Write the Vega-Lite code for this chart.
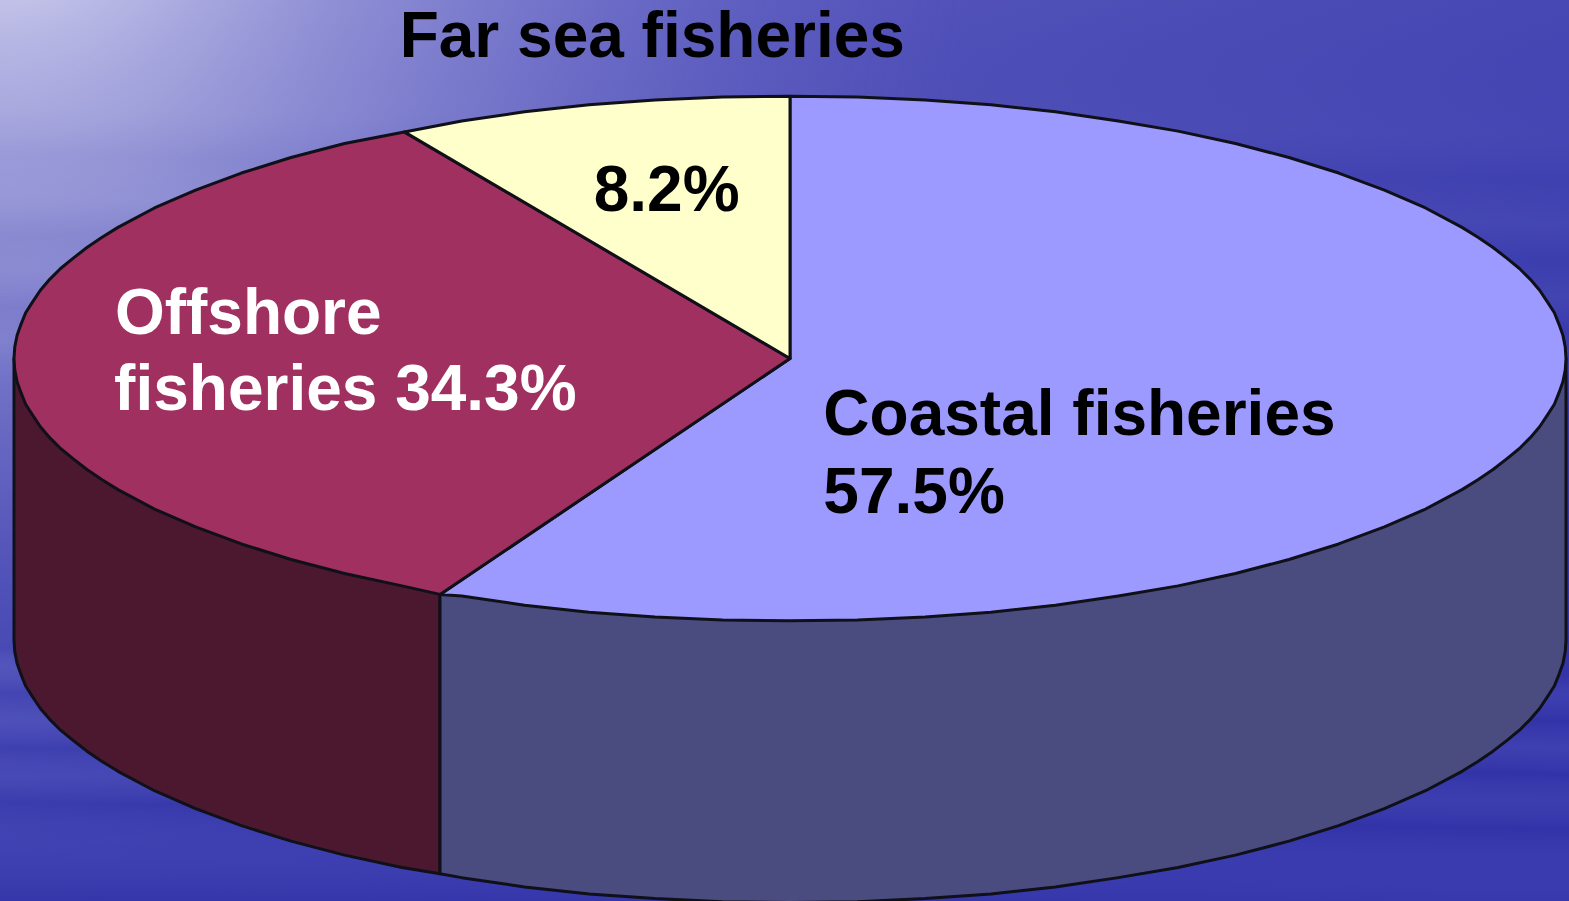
{
  "$schema": "https://vega.github.io/schema/vega-lite/v6.json",
  "width": 1569,
  "height": 901,
  "padding": 0,
  "autosize": "none",
  "view": {"stroke": null},
  "projection": {"type": "identity", "reflectY": true, "scale": 0.776, "translate": [790, 358.5]},
  "layer": [
    {
      "data": {"values": [{"backdrop": "sea"}]},
      "mark": {"type": "rect", "x": 0, "y": 0, "x2": 1569, "y2": 901,
        "fill": {"gradient": "linear", "x1": 0, "y1": 0, "x2": 0.6, "y2": 1,
          "stops": [{"offset": 0, "color": "#6262c4"}, {"offset": 0.35, "color": "#4c4cb6"}, {"offset": 0.7, "color": "#3a3cae"}, {"offset": 1, "color": "#3436aa"}]}},
      "encoding": {}
    },
    {
      "data": {"values": [{"backdrop": "glow"}]},
      "mark": {"type": "rect", "x": 0, "y": 0, "x2": 1569, "y2": 901,
        "fill": {"gradient": "radial", "x1": 0, "y1": 0.14, "r1": 0, "x2": 0, "y2": 0.14, "r2": 0.62,
          "stops": [{"offset": 0, "color": "rgba(232,232,248,0.92)"}, {"offset": 0.1, "color": "rgba(225,225,245,0.78)"}, {"offset": 0.35, "color": "rgba(190,190,232,0.54)"}, {"offset": 0.7, "color": "rgba(160,160,225,0.2)"}, {"offset": 1, "color": "rgba(120,120,210,0)"}]}},
      "encoding": {}
    },
    {
      "data": {"values": [{"backdrop": "ripples"}]},
      "mark": {"type": "rect", "x": 0, "y": 0, "x2": 1569, "y2": 901,
        "fill": {"gradient": "linear", "x1": 0.03, "y1": 0, "x2": 0, "y2": 1,
          "stops": [{"offset": 0, "color": "rgba(40,40,150,0)"}, {"offset": 0.12, "color": "rgba(255,255,255,0.02)"}, {"offset": 0.17, "color": "rgba(40,40,150,0.03)"}, {"offset": 0.22, "color": "rgba(255,255,255,0.03)"}, {"offset": 0.26, "color": "rgba(40,40,150,0.03)"}, {"offset": 0.3, "color": "rgba(255,255,255,0.04)"}, {"offset": 0.34, "color": "rgba(40,40,150,0.04)"}, {"offset": 0.38, "color": "rgba(255,255,255,0.04)"}, {"offset": 0.42, "color": "rgba(40,40,150,0.04)"}, {"offset": 0.72, "color": "rgba(30,30,150,0.12)"}, {"offset": 0.74, "color": "rgba(170,170,240,0.08)"}, {"offset": 0.77, "color": "rgba(30,30,150,0.14)"}, {"offset": 0.8, "color": "rgba(150,150,235,0.1)"}, {"offset": 0.83, "color": "rgba(30,30,150,0.14)"}, {"offset": 0.86, "color": "rgba(150,150,235,0.08)"}, {"offset": 0.89, "color": "rgba(30,30,150,0.14)"}, {"offset": 0.93, "color": "rgba(130,130,230,0.07)"}, {"offset": 1, "color": "rgba(30,30,150,0.2)"}]}},
      "encoding": {}
    },
    {
      "data": {"values": [
        {"type": "Feature", "properties": {"face": "Offshore side", "share": 34.3}, "geometry": {"type": "Polygon", "coordinates": [[[-451,-304],[-451,-664],[-500,-656],[-574,-640],[-643,-622],[-707,-602],[-766,-580],[-819,-557],[-866,-532],[-887,-519],[-906,-506],[-924,-492],[-940,-479],[-954,-465],[-966,-451],[-976,-436],[-985,-422],[-991,-407],[-996,-393],[-999,-378],[-1000,-363],[-1000,0],[-451,-304]]]}},
        {"type": "Feature", "properties": {"face": "Coastal side", "share": 57.5}, "geometry": {"type": "Polygon", "coordinates": [[[1000,0],[1000,-363],[999,-378],[996,-393],[991,-407],[985,-422],[976,-436],[966,-451],[954,-465],[940,-479],[924,-492],[906,-506],[887,-519],[866,-532],[819,-557],[766,-580],[707,-602],[643,-622],[574,-640],[500,-656],[423,-669],[342,-681],[259,-690],[174,-696],[87,-700],[0,-701],[-87,-700],[-174,-696],[-259,-690],[-342,-681],[-423,-669],[-451,-664],[-451,-304],[1000,0]]]}},
        {"type": "Feature", "properties": {"face": "Coastal fisheries", "share": 57.5}, "geometry": {"type": "Polygon", "coordinates": [[[0,0],[0,338],[87,337],[174,333],[259,327],[342,318],[423,306],[500,293],[574,277],[643,259],[707,239],[766,217],[819,194],[866,169],[887,156],[906,143],[924,129],[940,116],[954,102],[966,88],[976,73],[985,59],[991,44],[996,30],[999,15],[1000,0],[999,-15],[996,-30],[991,-44],[985,-59],[976,-73],[966,-88],[954,-102],[940,-116],[924,-129],[906,-143],[887,-156],[866,-169],[819,-194],[766,-217],[707,-239],[643,-259],[574,-277],[500,-293],[423,-306],[342,-318],[259,-327],[174,-333],[87,-337],[0,-338],[-87,-337],[-174,-333],[-259,-327],[-342,-318],[-423,-306],[-451,-304],[0,0]]]}},
        {"type": "Feature", "properties": {"face": "Offshore fisheries", "share": 34.3}, "geometry": {"type": "Polygon", "coordinates": [[[0,0],[-451,-304],[-500,-293],[-574,-277],[-643,-259],[-707,-239],[-766,-217],[-819,-194],[-866,-169],[-887,-156],[-906,-143],[-924,-129],[-940,-116],[-954,-102],[-966,-88],[-976,-73],[-985,-59],[-991,-44],[-996,-30],[-999,-15],[-1000,0],[-999,15],[-996,30],[-991,44],[-985,59],[-976,73],[-966,88],[-954,102],[-940,116],[-924,129],[-906,143],[-887,156],[-866,169],[-819,194],[-766,217],[-707,239],[-643,259],[-574,277],[-497,292],[0,0]]]}},
        {"type": "Feature", "properties": {"face": "Far sea fisheries", "share": 8.2}, "geometry": {"type": "Polygon", "coordinates": [[[0,0],[-497,292],[-423,306],[-342,318],[-259,327],[-174,333],[-87,337],[0,338],[0,0]]]}}
      ]},
      "mark": {"type": "geoshape", "stroke": "#101018", "strokeWidth": 3, "strokeJoin": "round", "clip": false},
      "encoding": {
        "color": {
          "field": "properties.face",
          "type": "nominal",
          "legend": null,
          "scale": {
            "domain": ["Offshore side", "Coastal side", "Coastal fisheries", "Offshore fisheries", "Far sea fisheries"],
            "range": ["#4c1830", "#4a4c80", "#9c9aff", "#a03060", "#ffffcc"]
          }
        }
      }
    },
    {
      "data": {"values": [
        {"label": "Far sea fisheries", "sector": "Far sea", "lon": -503, "lat": 388},
        {"label": "8.2%", "sector": "Far sea", "lon": -253, "lat": 190},
        {"label": "Offshore", "sector": "Offshore", "lon": -870, "lat": 31},
        {"label": "fisheries 34.3%", "sector": "Offshore", "lon": -871, "lat": -67},
        {"label": "Coastal fisheries", "sector": "Coastal", "lon": 43, "lat": -99},
        {"label": "57.5%", "sector": "Coastal", "lon": 43, "lat": -199}
      ]},
      "mark": {"type": "text", "font": "Liberation Sans", "fontWeight": "bold", "fontSize": 64, "align": "left", "baseline": "alphabetic"},
      "encoding": {
        "longitude": {"field": "lon", "type": "quantitative"},
        "latitude": {"field": "lat", "type": "quantitative"},
        "text": {"field": "label", "type": "nominal"},
        "color": {
          "field": "sector",
          "type": "nominal",
          "legend": null,
          "scale": {"domain": ["Far sea", "Offshore", "Coastal"], "range": ["#000000", "#ffffff", "#000000"]}
        }
      }
    }
  ],
  "resolve": {"scale": {"color": "independent"}}
}
